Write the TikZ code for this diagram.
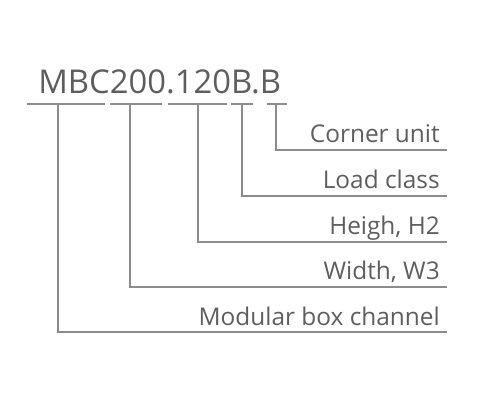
\documentclass[tikz,border=0pt]{standalone}
\usepackage{fontspec}
\setmainfont{Open Sans}
\usetikzlibrary{positioning}
\definecolor{txtgrey}{HTML}{5E5E5E}
\definecolor{linegrey}{HTML}{8C8C8C}

\begin{document}
\begin{tikzpicture}[x=0.75pt, y=-0.75pt]
	\tikzset{
		code/.style={anchor=base west, inner sep=0pt, text=txtgrey, font=\fontsize{24.6}{28}\selectfont},
		label/.style={anchor=base east, inner sep=0pt, text=txtgrey, font=\fontsize{18.3}{22}\selectfont},
		leader/.style={draw=linegrey, line width=1.1pt},
	}
	\useasboundingbox (0,0) rectangle (480,400);
	\node[code](title) at (38,93) {MBC200.120B.B};
	% underlines below the code
	\foreach \a/\b in {27/105, 110/162, 168/227, 231/253, 267/287}
		\draw[leader] (\a,104) -- (\b,104);
	% tick points and line ends
	\coordinate (box) at (58,104);
	\coordinate (wid) at (130,104);
	\coordinate (hei) at (198,104);
	\coordinate (load) at (242,104);
	\coordinate (corner) at (276,104);
	\coordinate (boxend) at (447,332);
	\coordinate (widend) at (447,287);
	\coordinate (heiend) at (447,242);
	\coordinate (loadend) at (447,196);
	\coordinate (cornerend) at (447,150);
	\node[label](cornerlbl) at (440,142) {Corner unit};
	\node[label](loadlbl) at (440,188) {Load class};
	\node[label](heilbl) at (440,234) {Heigh, H2};
	\node[label](widlbl) at (440,279) {Width, W3};
	\node[label](boxlbl) at (440,325) {Modular box channel};
	%Draw leaders
	\draw[leader] (corner) |- (cornerend);
	\draw[leader] (load) |- (loadend);
	\draw[leader] (hei) |- (heiend);
	\draw[leader] (wid) |- (widend);
	\draw[leader] (box) |- (boxend);
\end{tikzpicture}
\end{document}
